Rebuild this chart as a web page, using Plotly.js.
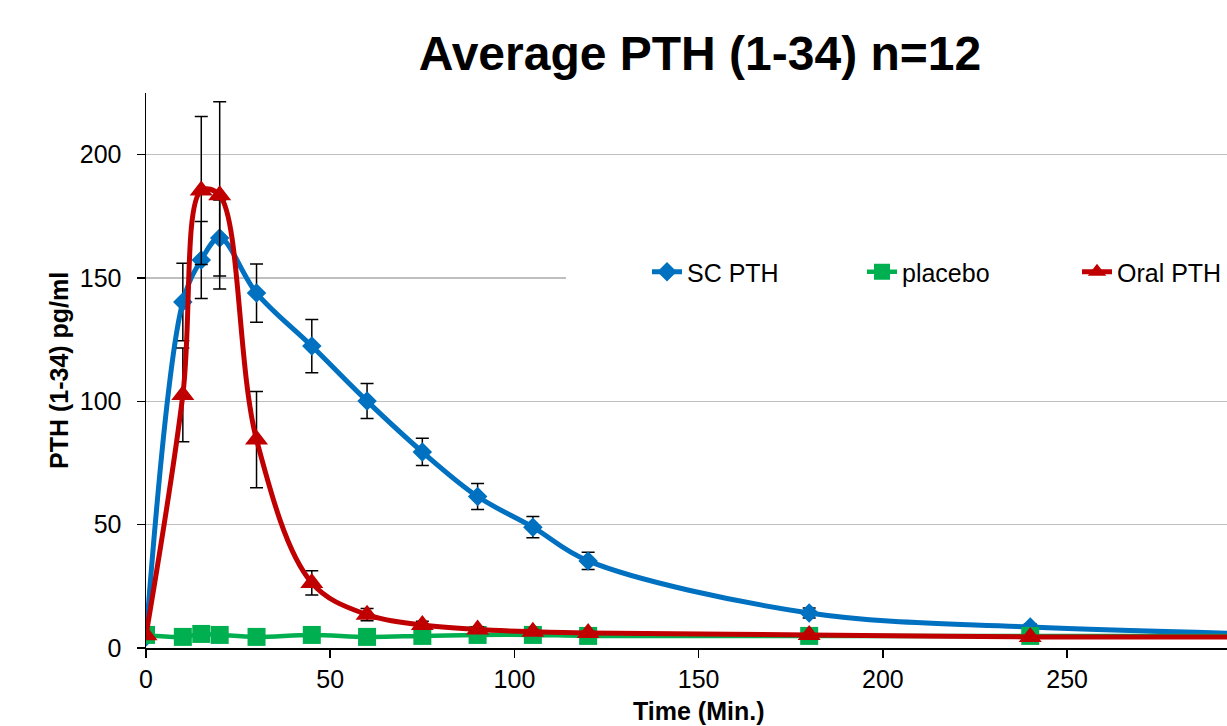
<!DOCTYPE html>
<html>
<head>
<meta charset="utf-8">
<script src="https://cdn.plot.ly/plotly-3.0.1.min.js"></script>
<style>
  html, body { margin: 0; padding: 0; background: #fff; }
  #chart { width: 1227px; height: 726px; }
</style>
</head>
<body>
<div id="chart"></div>
<script>
// Time points (minutes)
const time = [0, 10, 15, 20, 30, 45, 60, 75, 90, 105, 120, 180, 240, 300];
// SC PTH mean and error (pg/ml)
const scPTH = [4.5, 140.3, 157.3, 166.2, 143.9, 122.4, 100.1, 79.5, 61.4, 49.0, 35.3, 14.2, 8.5, 5.8];
const scErr = [0, 15.7, 15.6, 15.4, 11.8, 10.8, 7.1, 5.5, 5.3, 4.3, 3.5, 2, 1.2, 0];
// Placebo mean (pg/ml)
const placebo = [5.3, 4.5, 5.7, 5.3, 4.5, 5.3, 4.5, 4.9, 5.3, 5.3, 4.9, 4.9, 4.9, 4.9];
// Oral PTH mean and error (pg/ml)
const oralPTH = [5.2, 102.6, 185.5, 183.5, 84.5, 26.4, 13.5, 9.3, 7.5, 6.6, 6.1, 5.3, 4.5, 4.4];
const oralErr = [0, 19, 30, 38, 19.5, 4.9, 2.5, 1.5, 1, 0.8, 0.7, 0.5, 0.5, 0];
// Series names and tick values
const seriesNames = ["SC PTH", "placebo", "Oral PTH"];
const xTicks = [0, 50, 100, 150, 200, 250];
const yTicks = [0, 50, 100, 150, 200];

const FONT = "Liberation Sans, Arial, sans-serif";
const errStyle = { type: "data", visible: true, color: "#000000", thickness: 1.5, width: 6.5 };

const traces = [
  {
    x: time, y: scPTH, name: seriesNames[0], type: "scatter", mode: "lines+markers",
    line: { color: "#0070C0", width: 5, shape: "spline", smoothing: 1 },
    marker: { symbol: "diamond", size: 15, color: "#0070C0" },
    error_y: Object.assign({ array: scErr }, errStyle),
    cliponaxis: true
  },
  {
    x: time, y: placebo, name: seriesNames[1], type: "scatter", mode: "lines+markers",
    line: { color: "#00B050", width: 4.5, shape: "spline", smoothing: 1 },
    marker: { symbol: "square", size: 18, color: "#00B050" },
    cliponaxis: true
  },
  {
    x: time, y: oralPTH, name: seriesNames[2], type: "scatter", mode: "lines+markers",
    line: { color: "#C00000", width: 5, shape: "spline", smoothing: 1 },
    marker: { symbol: "triangle-up", size: 20, color: "#C00000" },
    error_y: Object.assign({ array: oralErr }, errStyle),
    cliponaxis: true
  }
];

const L = 146, T = 93, W = 1227, H = 726, B = 78;
const plotW = W - L, plotH = H - T - B;
const px2x = p => (p - L) / plotW;
const py2y = p => (H - B - p) / plotH;

const layout = {
  width: W, height: H,
  margin: { l: L, r: 0, t: T, b: B, pad: 0, autoexpand: false },
  paper_bgcolor: "#ffffff", plot_bgcolor: "#ffffff",
  font: { family: FONT, color: "#000000", size: 25 },
  title: {
    text: "<b>Average PTH (1-34) n=12</b>",
    font: { family: FONT, size: 48, color: "#000000" },
    x: 700 / W, xanchor: "center", xref: "container",
    y: 1 - 53 / H, yanchor: "middle", yref: "container"
  },
  xaxis: {
    range: [0, 293.4], tickvals: xTicks, ticktext: xTicks.map(String),
    showgrid: false, zeroline: false, showline: true, linecolor: "#000000", linewidth: 1.5,
    ticks: "outside", ticklen: 8, tickwidth: 1.5, tickcolor: "#000000",
    tickfont: { family: FONT, size: 25, color: "#000000" }, fixedrange: true,
    automargin: false
  },
  yaxis: {
    range: [0, 225], tickvals: yTicks, ticktext: yTicks.map(String),
    showgrid: true, gridcolor: "#bfbfbf", gridwidth: 1.5,
    zeroline: false, showline: true, linecolor: "#000000", linewidth: 1.5,
    ticks: "outside", ticklen: 8, tickwidth: 1.5, tickcolor: "#000000",
    ticklabelstandoff: 10,
    tickfont: { family: FONT, size: 25, color: "#000000" }, fixedrange: true,
    automargin: false
  },
  showlegend: true,
  legend: {
    orientation: "h", x: px2x(647), xanchor: "left", xref: "paper",
    y: py2y(272), yanchor: "middle", yref: "paper",
    bgcolor: "rgba(0,0,0,0)", borderwidth: 0,
    font: { family: FONT, size: 25, color: "#000000" },
    entrywidth: 170, entrywidthmode: "pixels", traceorder: "normal"
  },
  shapes: [
    { type: "rect", xref: "paper", yref: "paper", layer: "above",
      x0: px2x(566), x1: 1.0, y0: py2y(292), y1: py2y(258),
      fillcolor: "#ffffff", line: { width: 0 } }
  ],
  annotations: [
    { text: "<b>PTH (1-34) pg/ml</b>", textangle: -90, showarrow: false,
      xref: "paper", yref: "paper", x: px2x(59), y: py2y(371),
      xanchor: "center", yanchor: "middle",
      font: { family: FONT, size: 25, color: "#000000" } },
    { text: "<b>Time (Min.)</b>", showarrow: false,
      xref: "x", yref: "paper", x: 150, y: py2y(711),
      xanchor: "center", yanchor: "middle",
      font: { family: FONT, size: 25, color: "#000000" } }
  ],
  hovermode: false
};

Plotly.newPlot("chart", traces, layout, { displayModeBar: false, staticPlot: true });
</script>
</body>
</html>
